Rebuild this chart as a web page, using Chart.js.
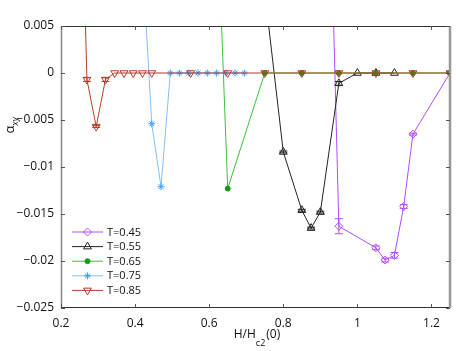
<!DOCTYPE html>
<html>
<head>
<meta charset="utf-8">
<script src="https://cdn.jsdelivr.net/npm/chart.js@4.4.0/dist/chart.umd.min.js"></script>
<style>
  html, body { margin: 0; padding: 0; background: #fff; }
  #wrap { width: 456px; height: 351px; }
</style>
</head>
<body>
<div id="wrap"><canvas id="alphaChart" width="456" height="351"></canvas></div>
<script>
/*** ======== Data ======== ***/
const xTicks = [0.2, 0.4, 0.6, 0.8, 1.0, 1.2];
const xTickLabels = ['0.2', '0.4', '0.6', '0.8', '1', '1.2'];
const yTicks = [-0.025, -0.02, -0.015, -0.01, -0.005, 0, 0.005];
const yTickLabels = ['\u22120.025', '\u22120.02', '\u22120.015', '\u22120.01', '\u22120.005', '0', '0.005'];

const seriesNames = ['T=0.45', 'T=0.55', 'T=0.65', 'T=0.75', 'T=0.85'];

const h045 = [0.9, 0.95, 1.05, 1.075, 1.1, 1.125, 1.15, 1.25];
const a045 = [0.06, -0.0163, -0.0186, -0.0199, -0.0194, -0.0142, -0.0065, 0];
const e045 = [0, 0.0008, 0.0002, 0.0002, 0.0003, 0.0002, 0.0001, 0];

const h055 = [0.75, 0.8, 0.85, 0.875, 0.9, 0.95, 1.0, 1.05, 1.1];
const a055 = [0.0086, -0.0084, -0.0146, -0.0165, -0.0148, -0.0011, 0, 0, 0];
const e055 = [0, 0.0001, 0.0001, 0.0001, 0.0001, 0.0002, 0, 0, 0];

const h065 = [0.6, 0.65, 0.75, 0.85, 0.95, 1.05, 1.15, 1.25];
const a065 = [0.04, -0.0123, 0, 0, 0, 0, 0, 0];

const h075 = [0.42, 0.445, 0.47, 0.495, 0.52, 0.545, 0.57, 0.595, 0.62, 0.645, 0.67, 0.695];
const a075 = [0.012, -0.0054, -0.0121, 0, 0, 0, 0, 0, 0, 0, 0, 0];

const h085 = [0.25, 0.27, 0.295, 0.32, 0.345, 0.37, 0.395, 0.42, 0.445, 0.55, 0.65, 0.75, 0.85, 0.95, 1.05, 1.15, 1.25];
const a085 = [0.029, -0.0007, -0.0057, -0.0007, 0, 0, 0, 0, 0, 0, 0, 0, 0, 0, 0, 0, 0];
const e085 = [0, 0.0002, 0.0001, 0.0002, 0, 0, 0, 0, 0, 0, 0, 0, 0, 0, 0, 0, 0];

function pts(xs, ys) { return xs.map((x, i) => ({ x: x, y: ys[i] })); }

/*** ======== Styles ======== ***/
const FONT = '"Open Sans", "Liberation Sans", sans-serif';
const styles = [
    { line: '#b44cff', mark: '#b44cff', fill: 'rgba(0,0,0,0)', style: 'rectRot', rot: 0, r: 4 },
    { line: '#222222', mark: '#222222', fill: 'rgba(0,0,0,0)', style: 'triangle', rot: 0, r: 4.5 },
    { line: '#3fbf3f', mark: '#129a12', fill: '#129a12', style: 'circle', rot: 0, r: 2.5 },
    { line: '#80c0ff', mark: '#3aa0ff', fill: 'rgba(0,0,0,0)', style: 'star', rot: 0, r: 3.5 },
    { line: '#b0402a', mark: '#b0402a', fill: 'rgba(0,0,0,0)', style: 'triangle', rot: 180, r: 4.5 }
];
const seriesData = [pts(h045, a045), pts(h055, a055), pts(h065, a065), pts(h075, a075), pts(h085, a085)];
const seriesErr = [e045, e055, null, null, e085];

const datasets = seriesData.map((d, i) => ({
    label: seriesNames[i],
    data: d,
    showLine: true,
    borderColor: styles[i].line,
    borderWidth: 1,
    pointStyle: styles[i].style,
    pointRotation: styles[i].rot,
    pointRadius: styles[i].r,
    pointBorderColor: styles[i].mark,
    pointBackgroundColor: styles[i].fill,
    pointBorderWidth: 1,
    order: 5 - i,
    yErr: seriesErr[i]
}));

/*** ======== Marker for legend ======== ***/
function drawMarker(ctx, s, x, y) {
    const r = s.r;
    ctx.save();
    ctx.strokeStyle = s.mark;
    ctx.fillStyle = s.fill;
    ctx.lineWidth = 1;
    ctx.beginPath();
    if (s.style === 'circle') {
        ctx.arc(x, y, r, 0, Math.PI * 2);
        ctx.fill(); ctx.stroke();
    } else if (s.style === 'rectRot') {
        ctx.moveTo(x, y - r); ctx.lineTo(x + r, y); ctx.lineTo(x, y + r); ctx.lineTo(x - r, y); ctx.closePath();
        ctx.fill(); ctx.stroke();
    } else if (s.style === 'triangle') {
        const dir = s.rot === 180 ? -1 : 1;
        ctx.moveTo(x, y - dir * r); ctx.lineTo(x + r * 0.87, y + dir * r * 0.5); ctx.lineTo(x - r * 0.87, y + dir * r * 0.5); ctx.closePath();
        ctx.fill(); ctx.stroke();
    } else if (s.style === 'star') {
        for (let k = 0; k < 4; k++) {
            const a = k * Math.PI / 4;
            ctx.moveTo(x - r * Math.cos(a), y - r * Math.sin(a));
            ctx.lineTo(x + r * Math.cos(a), y + r * Math.sin(a));
        }
        ctx.stroke();
    }
    ctx.restore();
}

/*** ======== Plugins ======== ***/
const errorBars = {
    id: 'errorBars',
    afterDatasetsDraw(chart) {
        const ctx = chart.ctx, a = chart.chartArea;
        const xs = chart.scales.x, ys = chart.scales.y;
        ctx.save();
        ctx.beginPath(); ctx.rect(a.left, a.top, a.right - a.left, a.bottom - a.top); ctx.clip();
        chart.data.datasets.forEach(ds => {
            if (!ds.yErr) return;
            ctx.strokeStyle = ds.pointBorderColor;
            ctx.lineWidth = 1;
            ds.data.forEach((p, i) => {
                const e = ds.yErr[i];
                if (!e) return;
                const px = xs.getPixelForValue(p.x);
                const y1 = ys.getPixelForValue(p.y - e), y2 = ys.getPixelForValue(p.y + e);
                ctx.beginPath();
                ctx.moveTo(px, y1); ctx.lineTo(px, y2);
                ctx.moveTo(px - 4, y1); ctx.lineTo(px + 4, y1);
                ctx.moveTo(px - 4, y2); ctx.lineTo(px + 4, y2);
                ctx.stroke();
            });
        });
        ctx.restore();
    }
};

const frameAndLegend = {
    id: 'frameAndLegend',
    afterDraw(chart) {
        const ctx = chart.ctx, a = chart.chartArea;
        const xs = chart.scales.x, ys = chart.scales.y;
        ctx.save();
        // frame
        ctx.lineWidth = 1;
        ctx.strokeStyle = '#333';
        ctx.beginPath();
        ctx.moveTo(a.left, a.top + 0.5); ctx.lineTo(a.right, a.top + 0.5);
        ctx.moveTo(a.left, a.bottom - 0.5); ctx.lineTo(a.right, a.bottom - 0.5);
        ctx.stroke();
        ctx.strokeStyle = '#888';
        ctx.lineWidth = 1.5;
        ctx.beginPath();
        ctx.moveTo(a.left + 0.5, a.top); ctx.lineTo(a.left + 0.5, a.bottom);
        ctx.stroke();
        ctx.lineWidth = 2.5;
        ctx.strokeStyle = '#999';
        ctx.beginPath();
        ctx.moveTo(a.right, a.top); ctx.lineTo(a.right, a.bottom);
        ctx.stroke();
        // inward ticks
        ctx.strokeStyle = '#555';
        ctx.lineWidth = 1;
        ctx.beginPath();
        xTicks.forEach(v => {
            const px = Math.round(xs.getPixelForValue(v)) + 0.5;
            ctx.moveTo(px, a.top); ctx.lineTo(px, a.top + 4);
            ctx.moveTo(px, a.bottom); ctx.lineTo(px, a.bottom - 4);
        });
        yTicks.forEach(v => {
            const py = Math.round(ys.getPixelForValue(v)) + 0.5;
            ctx.moveTo(a.left, py); ctx.lineTo(a.left + 4, py);
            ctx.moveTo(a.right, py); ctx.lineTo(a.right - 4, py);
        });
        ctx.stroke();

        // legend
        ctx.font = '11px ' + FONT;
        ctx.textBaseline = 'middle';
        ctx.textAlign = 'left';
        seriesNames.forEach((name, i) => {
            const y = 232 + i * 14.6;
            const s = styles[i];
            ctx.strokeStyle = s.line;
            ctx.lineWidth = 1;
            ctx.beginPath(); ctx.moveTo(72, y); ctx.lineTo(103, y); ctx.stroke();
            drawMarker(ctx, s, 87.5, y);
            ctx.fillStyle = '#111';
            ctx.fillText(name, 107, y + 0.5);
        });

        // axis titles
        ctx.fillStyle = '#111';
        ctx.textBaseline = 'alphabetic';
        ctx.font = '12px ' + FONT;
        const t1 = 'H/H', t2 = 'c2', t3 = '(0)';
        const w1 = ctx.measureText(t1).width, w3 = ctx.measureText(t3).width;
        ctx.font = '9px ' + FONT;
        const w2 = ctx.measureText(t2).width;
        let x0 = 257 - (w1 + w2 + w3 + 1) / 2;
        ctx.font = '12px ' + FONT;
        ctx.fillText(t1, x0, 338);
        ctx.font = '9px ' + FONT;
        ctx.fillText(t2, x0 + w1, 346);
        ctx.font = '12px ' + FONT;
        ctx.fillText(t3, x0 + w1 + w2 + 1, 338);

        ctx.translate(14, 125);
        ctx.rotate(-Math.PI / 2);
        ctx.font = '13px ' + FONT;
        const wa = ctx.measureText('\u03b1').width;
        ctx.font = '9px ' + FONT;
        const wxy = ctx.measureText('xy').width;
        const s0 = -(wa + wxy) / 2;
        ctx.font = '13px ' + FONT;
        ctx.fillText('\u03b1', s0, 0);
        ctx.font = 'italic 9px ' + FONT;
        ctx.fillText('xy', s0 + wa, 4);
        ctx.restore();
    }
};

/*** ======== Chart ======== ***/
new Chart(document.getElementById('alphaChart').getContext('2d'), {
    type: 'scatter',
    data: { datasets: datasets },
    options: {
        responsive: false,
        animation: false,
        devicePixelRatio: 1,
        layout: { padding: { top: 26, right: 6, left: 0, bottom: 0 } },
        plugins: { legend: { display: false }, tooltip: { enabled: false } },
        scales: {
            x: {
                type: 'linear', min: 0.2, max: 1.25,
                afterBuildTicks: s => { s.ticks = xTicks.map(v => ({ value: v })); },
                afterFit: s => { s.height = 43; },
                grid: { display: false, drawTicks: false },
                border: { display: false },
                ticks: {
                    padding: 8, color: '#111', font: { family: FONT, size: 12 }, maxRotation: 0,
                    callback: (v) => { const i = xTicks.findIndex(t => Math.abs(t - v) < 1e-9); return i >= 0 ? xTickLabels[i] : ''; }
                }
            },
            y: {
                type: 'linear', min: -0.025, max: 0.005,
                afterBuildTicks: s => { s.ticks = yTicks.map(v => ({ value: v })); },
                afterFit: s => { s.width = 61; },
                grid: { display: false, drawTicks: false },
                border: { display: false },
                ticks: {
                    padding: 7, color: '#111', font: { family: FONT, size: 12 },
                    callback: (v) => { const i = yTicks.findIndex(t => Math.abs(t - v) < 1e-9); return i >= 0 ? yTickLabels[i] : ''; }
                }
            }
        }
    },
    plugins: [errorBars, frameAndLegend]
});
</script>
</body>
</html>
